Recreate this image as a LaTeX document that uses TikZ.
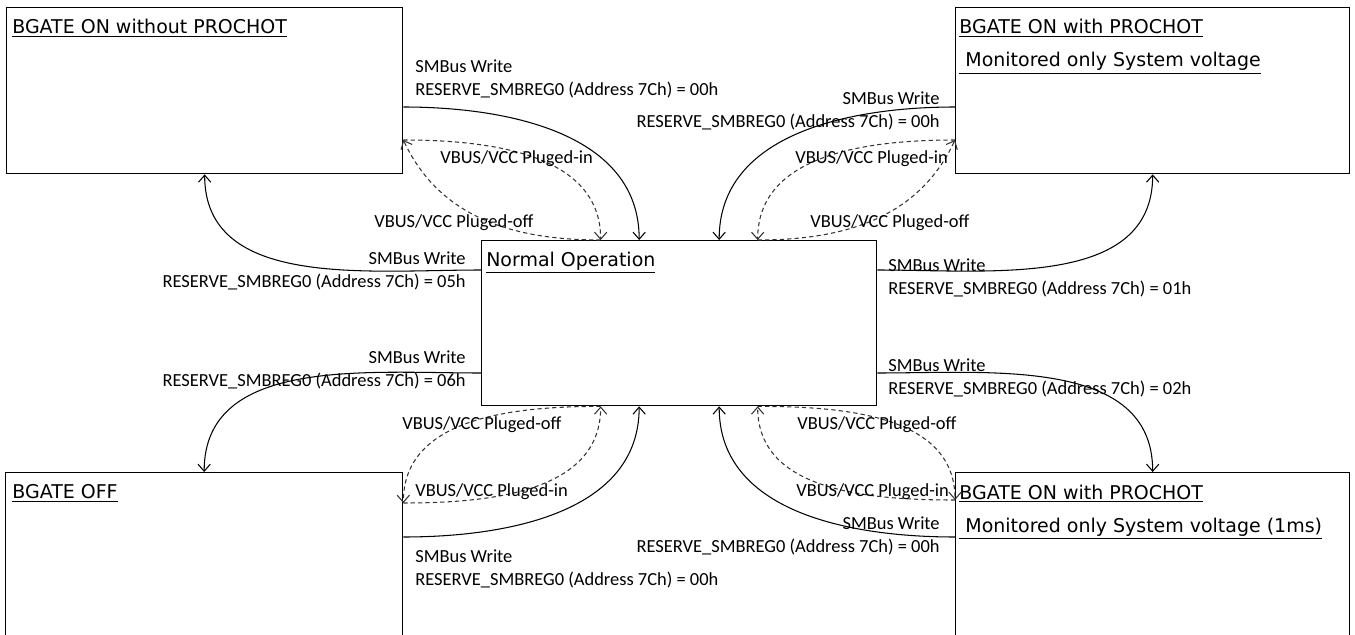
\documentclass[tikz,border=0pt]{standalone}
\usepackage{fontspec}
\setmainfont{Carlito}
\newfontfamily\titlefont{DejaVu Sans}
\usetikzlibrary{positioning}
\usetikzlibrary{calc}
\usetikzlibrary{arrows.meta}

\begin{document}
\begin{tikzpicture}[x=0.02cm, y=-0.02cm,
    statebox/.style = {draw, line width=0.8pt, rectangle, anchor=north west, minimum height=3.32cm},
    ttl/.style = {font=\titlefont\fontsize{10.8}{18.8}\selectfont, inner sep=0pt, align=left},
    lbl/.style = {font=\fontsize{10.5}{12}\selectfont, inner sep=0pt},
    smbus/.style = {line width=0.6pt, -{Straight Barb[length=4pt, width=7pt]}},
    plug/.style = {smbus, draw=black!80, dash pattern=on 2.4pt off 1.8pt}]
    \useasboundingbox (0,0) rectangle (1355,635);
    \clip (0,0) rectangle (1355,635);

    % states
    \node[statebox, minimum width=7.92cm] (tl) at (6,7) {};
    \node[statebox, minimum width=7.88cm] (tr) at (955,7) {};
    \node[statebox, minimum width=7.9cm, minimum height=3.3cm] (no) at (481,240) {};
    \node[statebox, minimum width=7.94cm, minimum height=4cm] (bl) at (5,472) {};
    \node[statebox, minimum width=7.88cm, minimum height=4cm] (br) at (955,472) {};

    \node[ttl, below right=6.8pt and 3.4pt of tl.north west] (tlT) {\underline{BGATE ON without PROCHOT}};
    \node[ttl, below right=6.8pt and 2.3pt of tr.north west] (trT) {\underline{BGATE ON with PROCHOT}\\\underline{\ Monitored only System voltage}};
    \node[ttl, below right=6.5pt and 2.8pt of no.north west] (noT) {\underline{Normal Operation}};
    \node[ttl, below right=7pt and 4pt of bl.north west] (blT) {\underline{BGATE OFF}};
    \node[ttl, below right=7pt and 2.3pt of br.north west] (brT) {\underline{BGATE ON with PROCHOT}\\\underline{\ Monitored only System voltage (1ms)}};

    % BGATE ON without PROCHOT
    \draw[smbus] ($(tl.north east)+(0,100)$) to[out=0, in=90] ($(no.north)+(-40,0)$);
    \draw[smbus] ($(no.north west)+(0,30)$) to[out=180, in=-90] (tl.south);
    \draw[plug] ($(tl.north east)+(0,133)$) to[out=0, in=90] ($(no.north)+(-78.5,0)$);
    \draw[plug] ($(no.north)+(-78.5,0)$) to[out=180, in=-65] ($(tl.north east)+(0,133)$);
    \node[lbl, anchor=base west] (tlinA) at (415,72) {SMBus Write};
    \node[lbl, anchor=base west] (tlinB) at (415,95) {RESERVE\_SMBREG0 (Address 7Ch) = 00h};
    \node[lbl, anchor=base east] (tloutA) at (466,264) {SMBus Write};
    \node[lbl, anchor=base east] (tloutB) at (466,287) {RESERVE\_SMBREG0 (Address 7Ch) = 05h};
    \node[lbl, anchor=base west] (tlplugin) at (440,163) {VBUS/VCC Pluged-in};
    \node[lbl, anchor=base west] (tlplugoff) at (374,227) {VBUS/VCC Pluged-off};

    % BGATE ON with PROCHOT
    \draw[smbus] ($(tr.north west)+(0,100)$) to[out=180, in=90] ($(no.north)+(40,0)$);
    \draw[smbus] ($(no.north east)+(0,30)$) to[out=0, in=-90] (tr.south);
    \draw[plug] ($(tr.north west)+(0,133)$) to[out=180, in=90] ($(no.north)+(78.5,0)$);
    \draw[plug] ($(no.north)+(78.5,0)$) to[out=0, in=-115] ($(tr.north west)+(0,133)$);
    \node[lbl, anchor=base east] (trinA) at (940,105) {SMBus Write};
    \node[lbl, anchor=base east] (trinB) at (940,128) {RESERVE\_SMBREG0 (Address 7Ch) = 00h};
    \node[lbl, anchor=base west] (troutA) at (888,271) {SMBus Write};
    \node[lbl, anchor=base west] (troutB) at (888,294) {RESERVE\_SMBREG0 (Address 7Ch) = 01h};
    \node[lbl, anchor=base west] (trplugin) at (795,163) {VBUS/VCC Pluged-in};
    \node[lbl, anchor=base west] (trplugoff) at (810,227) {VBUS/VCC Pluged-off};

    % BGATE OFF
    \draw[smbus] ($(no.north west)+(0,133)$) to[out=180, in=90] (bl.north);
    \draw[smbus] ($(bl.north east)+(0,65)$) to[out=0, in=-90] ($(no.south)+(-40,0)$);
    \draw[plug] ($(no.south)+(-78.5,0)$) to[out=180, in=90] ($(bl.north east)+(0,31)$);
    \draw[plug] ($(bl.north east)+(0,31)$) to[out=0, in=-90] ($(no.south)+(-78.5,0)$);
    \node[lbl, anchor=base east] (bloutA) at (466,363) {SMBus Write};
    \node[lbl, anchor=base east] (bloutB) at (466,386) {RESERVE\_SMBREG0 (Address 7Ch) = 06h};
    \node[lbl, anchor=base west] (blinA) at (415,562) {SMBus Write};
    \node[lbl, anchor=base west] (blinB) at (415,585) {RESERVE\_SMBREG0 (Address 7Ch) = 00h};
    \node[lbl, anchor=base west] (blplugoff) at (402,429) {VBUS/VCC Pluged-off};
    \node[lbl, anchor=base west] (blplugin) at (415,496) {VBUS/VCC Pluged-in};

    % BGATE ON with PROCHOT (1ms)
    \draw[smbus] ($(no.north east)+(0,133)$) to[out=0, in=90] (br.north);
    \draw[smbus] ($(br.north west)+(0,65)$) to[out=180, in=-90] ($(no.south)+(40,0)$);
    \draw[plug] ($(no.south)+(78.5,0)$) to[out=0, in=90] ($(br.north west)+(0,28)$);
    \draw[plug] ($(br.north west)+(0,28)$) to[out=180, in=-90] ($(no.south)+(78.5,0)$);
    \node[lbl, anchor=base west] (broutA) at (888,371) {SMBus Write};
    \node[lbl, anchor=base west] (broutB) at (888,394) {RESERVE\_SMBREG0 (Address 7Ch) = 02h};
    \node[lbl, anchor=base east] (brinA) at (940,529) {SMBus Write};
    \node[lbl, anchor=base east] (brinB) at (940,552) {RESERVE\_SMBREG0 (Address 7Ch) = 00h};
    \node[lbl, anchor=base west] (brplugoff) at (797,429) {VBUS/VCC Pluged-off};
    \node[lbl, anchor=base west] (brplugin) at (796,496) {VBUS/VCC Pluged-in};
\end{tikzpicture}
\end{document}
